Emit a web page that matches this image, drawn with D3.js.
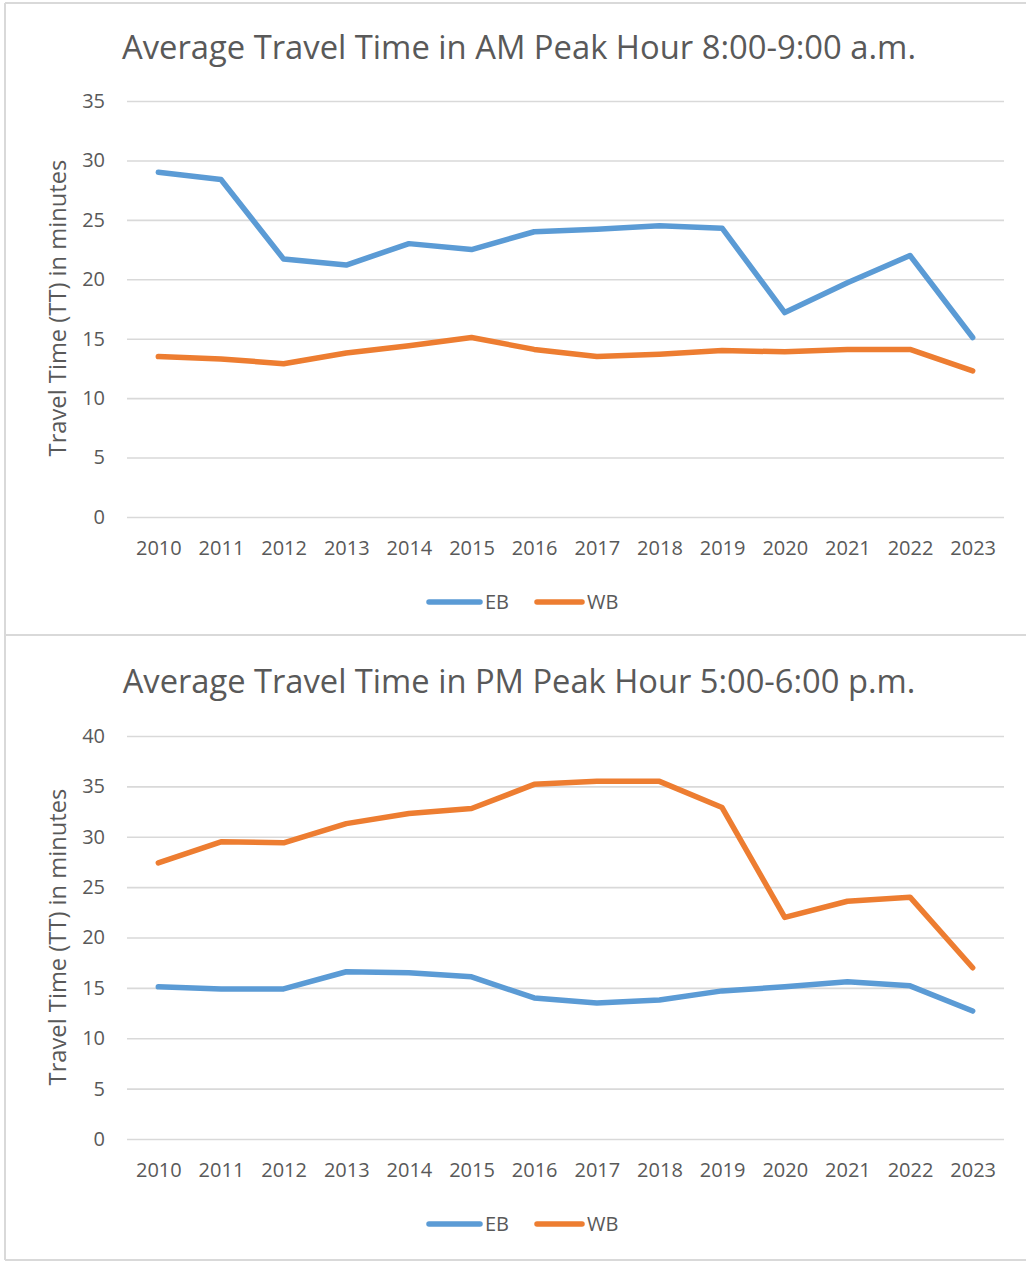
<!DOCTYPE html>
<html>
<head>
<meta charset="utf-8">
<script src="https://cdn.jsdelivr.net/npm/d3@7"></script>
<style>
  html, body { margin: 0; padding: 0; background: #ffffff; }
  svg { display: block; }
  text { font-family: "Open Sans", "Lato", sans-serif; fill: #595959; }
</style>
</head>
<body>
<svg id="chart" width="1026" height="1262"></svg>
<script>
// Years on the category axis
const years = ["2010","2011","2012","2013","2014","2015","2016","2017","2018","2019","2020","2021","2022","2023"];

// AM peak hour (8:00-9:00 a.m.) average travel time, minutes
const amEB = [29.0, 28.4, 21.7, 21.2, 23.0, 22.5, 24.0, 24.2, 24.5, 24.3, 17.2, 19.7, 22.0, 15.1];
const amWB = [13.5, 13.3, 12.9, 13.8, 14.4, 15.1, 14.1, 13.5, 13.7, 14.0, 13.9, 14.1, 14.1, 12.3];

// PM peak hour (5:00-6:00 p.m.) average travel time, minutes
const pmEB = [15.1, 14.9, 14.9, 16.6, 16.5, 16.1, 14.0, 13.5, 13.8, 14.7, 15.1, 15.6, 15.2, 12.7];
const pmWB = [27.4, 29.5, 29.4, 31.3, 32.3, 32.8, 35.2, 35.5, 35.5, 32.9, 22.0, 23.6, 24.0, 17.0];

// Value axis ticks for each panel
const amTicks = [0, 5, 10, 15, 20, 25, 30, 35];
const pmTicks = [0, 5, 10, 15, 20, 25, 30, 35, 40];

const colors = { EB: "#5B9BD5", WB: "#ED7D31" };

const svg = d3.select("#chart");

// Scale a text element's font size so it spans the given width
function fitWidth(sel, target) {
  const node = sel.node();
  const size = parseFloat(sel.attr("font-size"));
  const w = node.getComputedTextLength();
  sel.attr("font-size", (size * target / w).toFixed(2));
}

// Panel frames
const frame = svg.append("g").attr("fill", "none").attr("stroke", "#D9D9D9").attr("stroke-width", 2);
frame.append("line").attr("x1", 5).attr("x2", 5).attr("y1", 3).attr("y2", 1260);
frame.append("line").attr("x1", 5).attr("x2", 1026).attr("y1", 3).attr("y2", 3);
frame.append("line").attr("x1", 5).attr("x2", 1026).attr("y1", 635).attr("y2", 635);
frame.append("line").attr("x1", 5).attr("x2", 1026).attr("y1", 1260).attr("y2", 1260);

function drawPanel(cfg) {
  const g = svg.append("g");
  const x = d3.scalePoint().domain(years).range([cfg.left, cfg.right]).padding(0.5);
  const y = d3.scaleLinear().domain([0, d3.max(cfg.ticks)]).range([cfg.bottom, cfg.top]);

  // Title
  const title = g.append("text")
    .attr("x", cfg.titleX).attr("y", cfg.titleY)
    .attr("text-anchor", "middle")
    .attr("font-size", 28)
    .text(cfg.title);
  fitWidth(title, cfg.titleW);

  // Horizontal gridlines and value labels
  const yAxis = d3.axisLeft(y).tickValues(cfg.ticks).tickSize(-(cfg.right - cfg.left)).tickPadding(22);
  const ya = g.append("g").attr("transform", `translate(${cfg.left},0)`).call(yAxis);
  ya.select(".domain").remove();
  ya.selectAll(".tick line").attr("stroke", "#D9D9D9").attr("stroke-width", 1.6);
  ya.selectAll(".tick text").attr("font-size", 20).attr("fill", "#595959")
    .attr("font-family", "Open Sans, sans-serif");

  // Category labels
  const xAxis = d3.axisBottom(x).tickSize(0).tickPadding(0);
  const xa = g.append("g").attr("transform", `translate(0,${cfg.xLabelY})`).call(xAxis);
  xa.select(".domain").remove();
  xa.selectAll(".tick text").attr("font-size", 20).attr("fill", "#595959")
    .attr("dy", "0.35em").attr("font-family", "Open Sans, sans-serif");

  // Value axis title
  const yt = g.append("text")
    .attr("transform", `translate(${cfg.yTitleX},${cfg.yTitleY}) rotate(-90)`)
    .attr("text-anchor", "middle")
    .attr("dy", "0.35em")
    .attr("font-size", 21)
    .text("Travel Time (TT) in minutes");
  fitWidth(yt, 297);

  // Series lines
  const line = d3.line().x((d, i) => x(years[i])).y(d => y(d));
  cfg.series.forEach(s => {
    g.append("path")
      .datum(s.values)
      .attr("fill", "none")
      .attr("stroke", colors[s.name])
      .attr("stroke-width", 5.5)
      .attr("stroke-linejoin", "round")
      .attr("stroke-linecap", "round")
      .attr("d", line);
  });

  // Legend
  const leg = g.append("g").attr("transform", `translate(0,${cfg.legendY})`);
  const items = [
    { name: "EB", x1: 429, x2: 480, tx: 485 },
    { name: "WB", x1: 537, x2: 582, tx: 587 }
  ];
  items.forEach(it => {
    leg.append("line").attr("x1", it.x1).attr("x2", it.x2).attr("y1", 0).attr("y2", 0)
      .attr("stroke", colors[it.name]).attr("stroke-width", 5.5).attr("stroke-linecap", "round");
    leg.append("text").attr("x", it.tx).attr("y", 0).attr("dy", "0.35em")
      .attr("font-size", 20).text(it.name);
  });
}

drawPanel({
  title: "Average Travel Time in AM Peak Hour 8:00-9:00 a.m.",
  titleX: 519, titleY: 59, titleW: 794,
  left: 127, right: 1004, top: 101, bottom: 517,
  ticks: amTicks,
  xLabelY: 548,
  yTitleX: 58, yTitleY: 308,
  legendY: 602,
  series: [{ name: "EB", values: amEB }, { name: "WB", values: amWB }]
});

drawPanel({
  title: "Average Travel Time in PM Peak Hour 5:00-6:00 p.m.",
  titleX: 519, titleY: 693, titleW: 793,
  left: 127, right: 1004, top: 736, bottom: 1139,
  ticks: pmTicks,
  xLabelY: 1170,
  yTitleX: 58, yTitleY: 937,
  legendY: 1224,
  series: [{ name: "EB", values: pmEB }, { name: "WB", values: pmWB }]
});
</script>
</body>
</html>
